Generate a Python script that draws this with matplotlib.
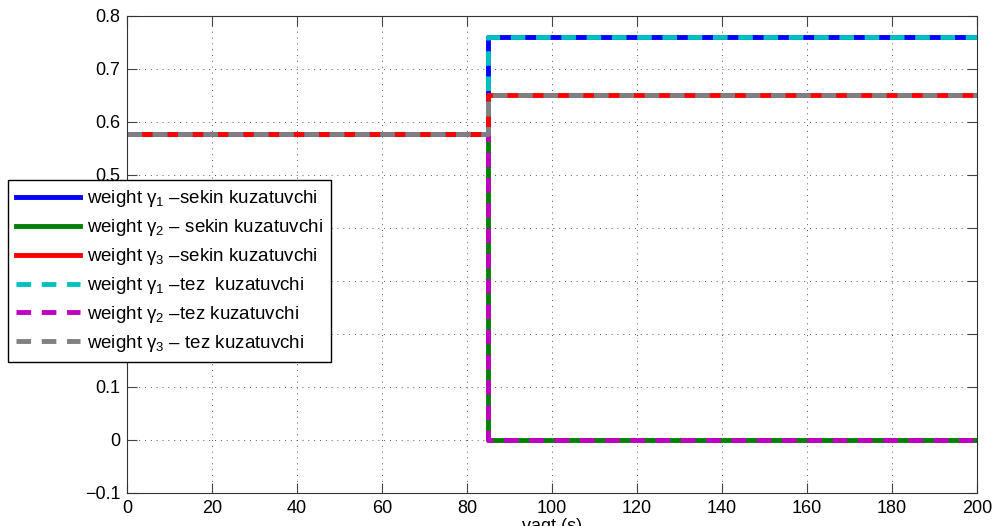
import numpy as np
import matplotlib
matplotlib.use("Agg")
import matplotlib.pyplot as plt

plt.rcParams['font.family'] = ['Liberation Sans', 'DejaVu Sans']
plt.rcParams['mathtext.fontset'] = 'custom'
plt.rcParams['mathtext.rm'] = 'Liberation Sans'

# time instants (s): start, switching moment, end
t = [0, 85, 200]
# weights before and after the switch
g1_slow = [0.577, 0.76, 0.76]
g2_slow = [0.577, 0.0, 0.0]
g3_slow = [0.577, 0.65, 0.65]
g1_fast = [0.577, 0.76, 0.76]
g2_fast = [0.577, 0.0, 0.0]
g3_fast = [0.577, 0.65, 0.65]

labels = [r"weight $\mathregular{\gamma_1}$ –sekin kuzatuvchi",
          r"weight $\mathregular{\gamma_2}$ – sekin kuzatuvchi",
          r"weight $\mathregular{\gamma_3}$ –sekin kuzatuvchi",
          r"weight $\mathregular{\gamma_1}$ –tez  kuzatuvchi",
          r"weight $\mathregular{\gamma_2}$ –tez kuzatuvchi",
          r"weight $\mathregular{\gamma_3}$ – tez kuzatuvchi"]

fig = plt.figure(figsize=(9.93, 5.26), dpi=100)
ax = fig.add_axes([0.128, 0.063, 0.856, 0.907])

series = [(g1_slow, "#0000ff", "-"), (g2_slow, "#008000", "-"), (g3_slow, "#ff0000", "-"),
          (g1_fast, "#00c0c0", (0, (3, 2.2))), (g2_fast, "#c000c0", (0, (3, 2.2))),
          (g3_fast, "#808080", (0, (3, 2.2)))]
handles = []
for (y, c, ls), lab in zip(series, labels):
    h, = ax.plot(t, y, drawstyle="steps-post", color=c, ls=ls, lw=3.5, label=lab)
    handles.append(h)

ax.set_xlim(0, 200)
ax.set_ylim(-0.1, 0.8)
ax.set_xticks(np.arange(0, 201, 20))
ax.set_yticks(np.round(np.arange(-0.1, 0.81, 0.1), 1))
ax.set_yticklabels(["\u22120.1", "0", "0.1", "0.2", "0.3", "0.4", "0.5", "0.6", "0.7", "0.8"])
ax.tick_params(direction="in", top=True, right=True, labelsize=13, length=7, color="#444", pad=5)
ax.grid(True, ls=(0, (1, 5)), color="#555", lw=0.7)
ax.set_xlabel("vaqt (s)", fontsize=13, labelpad=1)
for s in ax.spines.values():
    s.set_color("#333")

fig.legend(handles=handles, loc="upper left", bbox_to_anchor=(8 / 993, 1 - 180 / 526),
           fontsize=13.5, handlelength=3.4, labelspacing=0.42, borderaxespad=0,
           fancybox=False, edgecolor="black", framealpha=1, borderpad=0.45, handletextpad=0.35)

fig.savefig("out.png", dpi=100)
